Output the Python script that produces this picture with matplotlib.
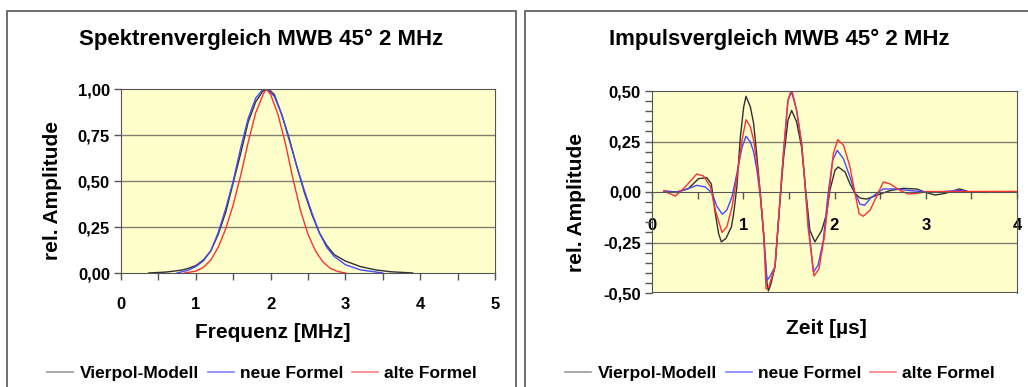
import numpy as np
import matplotlib.pyplot as plt
from matplotlib.patches import Rectangle
from matplotlib.ticker import MultipleLocator, FuncFormatter

plt.rcParams['font.family'] = ['Liberation Sans', 'DejaVu Sans']
plt.rcParams['font.weight'] = 'bold'

# --- Spektrum (Frequenz in MHz, rel. Amplitude) ---
f_vier = [0.37, 0.6, 0.8, 0.9, 1.0, 1.1, 1.2, 1.3, 1.4, 1.5, 1.6, 1.7, 1.8, 1.9, 1.97,
          2.05, 2.15, 2.25, 2.35, 2.45, 2.55, 2.65, 2.75, 2.85, 3.0, 3.2, 3.4, 3.6, 3.9]
a_vier = [0.0, 0.005, 0.015, 0.025, 0.04, 0.07, 0.12, 0.21, 0.33, 0.49, 0.65, 0.82, 0.93, 0.99, 1.0,
          0.97, 0.86, 0.73, 0.58, 0.44, 0.32, 0.22, 0.15, 0.10, 0.065, 0.035, 0.017, 0.007, 0.0]
f_neu = [0.75, 0.9, 1.0, 1.1, 1.2, 1.3, 1.4, 1.5, 1.6, 1.7, 1.8, 1.9, 1.95, 2.05, 2.15,
         2.25, 2.35, 2.45, 2.55, 2.65, 2.75, 2.85, 3.0, 3.2, 3.5]
a_neu = [0.0, 0.015, 0.035, 0.065, 0.12, 0.22, 0.35, 0.50, 0.68, 0.84, 0.95, 1.0, 1.0, 0.96, 0.86,
         0.72, 0.58, 0.45, 0.33, 0.22, 0.14, 0.09, 0.045, 0.017, 0.0]
f_alt = [0.85, 1.0, 1.1, 1.2, 1.3, 1.4, 1.5, 1.6, 1.7, 1.8, 1.9, 1.94, 2.0, 2.1, 2.2,
         2.3, 2.4, 2.5, 2.6, 2.7, 2.8, 2.9, 3.0]
a_alt = [0.0, 0.01, 0.03, 0.07, 0.14, 0.24, 0.37, 0.53, 0.71, 0.87, 0.97, 1.0, 0.97, 0.86, 0.70,
         0.51, 0.34, 0.21, 0.12, 0.06, 0.025, 0.008, 0.0]

# --- Impuls (Zeit in us, rel. Amplitude) ---
t_vier = [0.13, 0.27, 0.40, 0.51, 0.60, 0.65, 0.694, 0.73, 0.76, 0.81, 0.87, 0.895, 0.93, 0.968,
          1.005, 1.03, 1.078, 1.114, 1.15, 1.187, 1.224, 1.26, 1.275, 1.30, 1.348, 1.40, 1.44,
          1.49, 1.53, 1.585, 1.64, 1.677, 1.73, 1.785, 1.86, 1.914, 1.95, 2.005, 2.04, 2.115,
          2.17, 2.225, 2.28, 2.35, 2.44, 2.50, 2.61, 2.75, 2.90, 2.99, 3.10, 3.21, 3.37, 3.48,
          3.63, 4.0]
p_vier = [0.005, 0.0, 0.017, 0.066, 0.071, 0.04, -0.107, -0.206, -0.247, -0.23, -0.173, -0.107,
          0.025, 0.272, 0.421, 0.474, 0.421, 0.339, 0.174, -0.007, -0.22, -0.45, -0.49, -0.46,
          -0.37, -0.06, 0.16, 0.355, 0.404, 0.347, 0.22, 0.04, -0.19, -0.247, -0.19, -0.107,
          0.01, 0.107, 0.124, 0.10, 0.04, -0.007, -0.03, -0.035, -0.02, -0.01, 0.007, 0.018,
          0.015, 0.0, -0.015, -0.007, 0.015, 0.0, -0.002, 0.0]
t_neu = [0.13, 0.27, 0.40, 0.49, 0.585, 0.66, 0.71, 0.77, 0.82, 0.877, 0.93, 0.986, 1.03, 1.078,
         1.114, 1.15, 1.187, 1.224, 1.26, 1.29, 1.348, 1.40, 1.44, 1.49, 1.53, 1.585, 1.64, 1.677,
         1.71, 1.768, 1.82, 1.877, 1.93, 1.98, 2.03, 2.097, 2.17, 2.225, 2.28, 2.33, 2.39, 2.48,
         2.535, 2.68, 2.83, 3.01, 3.19, 3.37, 3.48, 4.0]
p_neu = [0.005, -0.003, 0.017, 0.033, 0.025, -0.007, -0.07, -0.11, -0.09, -0.023, 0.092, 0.22,
         0.276, 0.248, 0.198, 0.107, -0.023, -0.206, -0.437, -0.42, -0.37, -0.057, 0.19, 0.454,
         0.495, 0.404, 0.24, 0.04, -0.14, -0.396, -0.363, -0.24, -0.007, 0.157, 0.206, 0.165,
         0.074, -0.007, -0.06, -0.066, -0.033, 0.0, 0.015, 0.015, 0.007, 0.0, 0.002, 0.008, 0.0, 0.0]
t_alt = [0.13, 0.256, 0.365, 0.49, 0.566, 0.64, 0.694, 0.767, 0.82, 0.877, 0.93, 0.986, 1.03,
         1.078, 1.114, 1.15, 1.187, 1.224, 1.25, 1.28, 1.348, 1.40, 1.44, 1.49, 1.53, 1.585, 1.64,
         1.677, 1.71, 1.776, 1.83, 1.89, 1.94, 1.987, 2.035, 2.10, 2.17, 2.225, 2.27, 2.315, 2.39,
         2.46, 2.535, 2.61, 2.72, 2.81, 2.90, 3.01, 4.0]
p_alt = [0.005, -0.02, 0.026, 0.089, 0.079, 0.026, -0.09, -0.20, -0.173, -0.074, 0.074, 0.256,
         0.358, 0.322, 0.256, 0.14, -0.007, -0.206, -0.48, -0.47, -0.37, -0.057, 0.19, 0.454,
         0.51, 0.404, 0.24, 0.04, -0.173, -0.416, -0.38, -0.22, -0.007, 0.19, 0.259, 0.231,
         0.124, -0.007, -0.107, -0.12, -0.09, -0.023, 0.05, 0.04, 0.007, -0.01, -0.007, 0.002, 0.003]

labels = ['Vierpol-Modell', 'neue Formel', 'alte Formel']
c_vier, c_neu, c_alt = '#303030', '#4848ff', '#ff3030'
bg = '#ffffcc'
grid_c = '#807e70'
ax_c = '#555555'

W, H = 1028, 387
fig = plt.figure(figsize=(W / 100, H / 100), dpi=100)

# Panel-Rahmen
for x0, x1 in [(7, 516), (525, 1040)]:
    fig.patches.append(Rectangle((x0 / W, -0.1), (x1 - x0) / W, 1.1 - 11 / H,
                                 transform=fig.transFigure, fill=False,
                                 edgecolor=ax_c, lw=1.2))

comma = FuncFormatter(lambda v, p: f'{v:.2f}'.replace('.', ','))


def px_axes(l, r, t, b):
    return fig.add_axes([l / W, 1 - b / H, (r - l) / W, (b - t) / H])


def ftext(x, y, s, **kw):
    fig.text(x / W, 1 - y / H, s, ha='center', va='center', fontweight='bold', **kw)


# ---------- links: Spektrum ----------
ax = px_axes(121, 495, 89, 273)
ax.set_facecolor(bg)
ax.plot(f_vier, a_vier, color=c_vier, lw=1.0)
ax.plot(f_neu, a_neu, color=c_neu, lw=1.0)
ax.plot(f_alt, a_alt, color=c_alt, lw=1.0)
ax.set_xlim(0, 5)
ax.set_ylim(0, 1)
ax.xaxis.set_major_locator(MultipleLocator(1))
ax.xaxis.set_minor_locator(MultipleLocator(0.5))
ax.yaxis.set_major_locator(MultipleLocator(0.25))
ax.yaxis.set_major_formatter(comma)
for y in [0.25, 0.5, 0.75]:
    ax.axhline(y, color=grid_c, lw=1.0, zorder=0.5)
for s in ax.spines.values():
    s.set_color(ax_c)
ax.tick_params(axis='both', which='both', direction='out', length=5, width=1, color=ax_c,
               labelsize=12, pad=3)
ax.tick_params(axis='x', pad=12)
for lab in ax.get_xticklabels() + ax.get_yticklabels():
    lab.set_fontweight('bold')
ftext(273, 333, 'Frequenz [MHz]', fontsize=15)
ftext(52, 191, 'rel. Amplitude', fontsize=15, rotation=90)
ftext(261, 39, 'Spektrenvergleich MWB 45° 2 MHz', fontsize=16)

# ---------- rechts: Impuls ----------
ax2 = px_axes(652, 1017, 91, 293)
ax2.set_facecolor(bg)
ax2.plot(t_vier, p_vier, color=c_vier, lw=1.0)
ax2.plot(t_neu, p_neu, color=c_neu, lw=1.0)
ax2.plot(t_alt, p_alt, color=c_alt, lw=1.0)
ax2.set_xlim(0, 4)
ax2.set_ylim(-0.5, 0.5)
ax2.spines['bottom'].set_position(('data', 0))
ax2.xaxis.set_major_locator(MultipleLocator(1))
ax2.xaxis.set_minor_locator(MultipleLocator(0.5))
ax2.yaxis.set_major_locator(MultipleLocator(0.25))
ax2.yaxis.set_minor_locator(MultipleLocator(0.05))
ax2.yaxis.set_major_formatter(comma)
for y in [-0.25, 0.25]:
    ax2.axhline(y, color=grid_c, lw=1.0, zorder=0.5)
ax2.axhline(-0.5, color=ax_c, lw=1.5, zorder=0.5)
for s in ax2.spines.values():
    s.set_color(ax_c)
ax2.tick_params(axis='both', which='both', direction='out', length=5, width=1, color=ax_c,
                labelsize=12, pad=3)
ax2.tick_params(axis='x', pad=14)
for lab in ax2.get_xticklabels() + ax2.get_yticklabels():
    lab.set_fontweight('bold')
ftext(826, 328, 'Zeit [µs]', fontsize=15)
ftext(576, 202, 'rel. Amplitude', fontsize=15, rotation=90)
ftext(779, 39, 'Impulsvergleich MWB 45° 2 MHz', fontsize=16)

# Legenden
leg_cols = ['#999999', '#8080ff', '#ff8080']
for cx in [262, 780]:
    handles = [plt.Line2D([], [], color=c, lw=1.2) for c in leg_cols]
    fig.legend(handles, labels, loc='center', bbox_to_anchor=(cx / W, 1 - 373 / H),
               ncol=3, frameon=False, handlelength=1.5, handletextpad=0.35,
               columnspacing=0.5, prop={'weight': 'bold', 'size': 12.5})

fig.savefig('out.png', dpi=100)
